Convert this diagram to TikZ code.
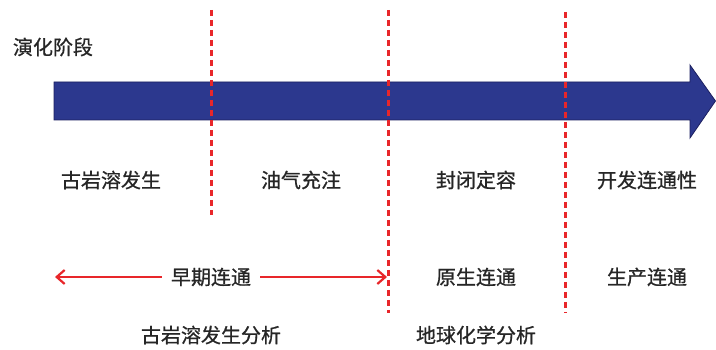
\documentclass[tikz,border=0pt]{standalone}
\usepackage{fontspec}
\setmainfont{Noto Sans CJK SC}[FakeBold=0.8]
\usetikzlibrary{arrows.meta}

\definecolor{stageblue}{RGB}{44,56,142}
\definecolor{stageedge}{RGB}{28,32,96}
\definecolor{markred}{RGB}{232,38,42}

\tikzset{
  lbl/.style={font=\fontsize{20}{24}\selectfont, inner sep=0pt, text=black!85},
  divider/.style={markred, line width=3pt, dash pattern=on 6.5pt off 3.5pt},
  span/.style={markred, line width=2.2pt, arrows={Straight Barb[length=8pt,width=14pt,line width=2.2pt]-}}
}

\begin{document}
\begin{tikzpicture} [x=1pt,y=-1pt]

\useasboundingbox (0,0) rectangle (716,350);

% stage arrow
\fill [stageblue, draw=stageedge, line width=0.8pt]
  (54,82) -- (690,82) -- (690,65) -- (715.5,101) -- (690,138) -- (690,120) -- (54,120) -- cycle;

\node [lbl] (stage) at (53,47) {演化阶段};

% dividers
\coordinate (d1a) at (211,10);
\coordinate (d1b) at (211,215);
\coordinate (d2a) at (388,10);
\coordinate (d2b) at (388,313);
\coordinate (d3a) at (565,12);
\coordinate (d3b) at (565,313);

\draw [divider] (d1a)--(d1b);
\draw [divider] (d2a)--(d2b);
\draw [divider] (d3a)--(d3b);

% stages
\node [lbl] (karst) at (111,180) {古岩溶发生};
\node [lbl] (charge) at (301,180) {油气充注};
\node [lbl] (seal) at (476,180) {封闭定容};
\node [lbl] (develop) at (647,180) {开发连通性};

% connectivity
\node [lbl, inner xsep=9pt] (early) at (211,277) {早期连通};
\node [lbl] (primary) at (476,277) {原生连通};
\node [lbl] (produce) at (647,277) {生产连通};

\coordinate (el) at (55,277);
\coordinate (er) at (387,277);

\draw [span] (el)--(early.west);
\draw [span] (er)--(early.east);

% methods
\node [lbl] (karstana) at (211,335) {古岩溶发生分析};
\node [lbl] (geochem) at (476,335) {地球化学分析};

\end{tikzpicture}
\end{document}
